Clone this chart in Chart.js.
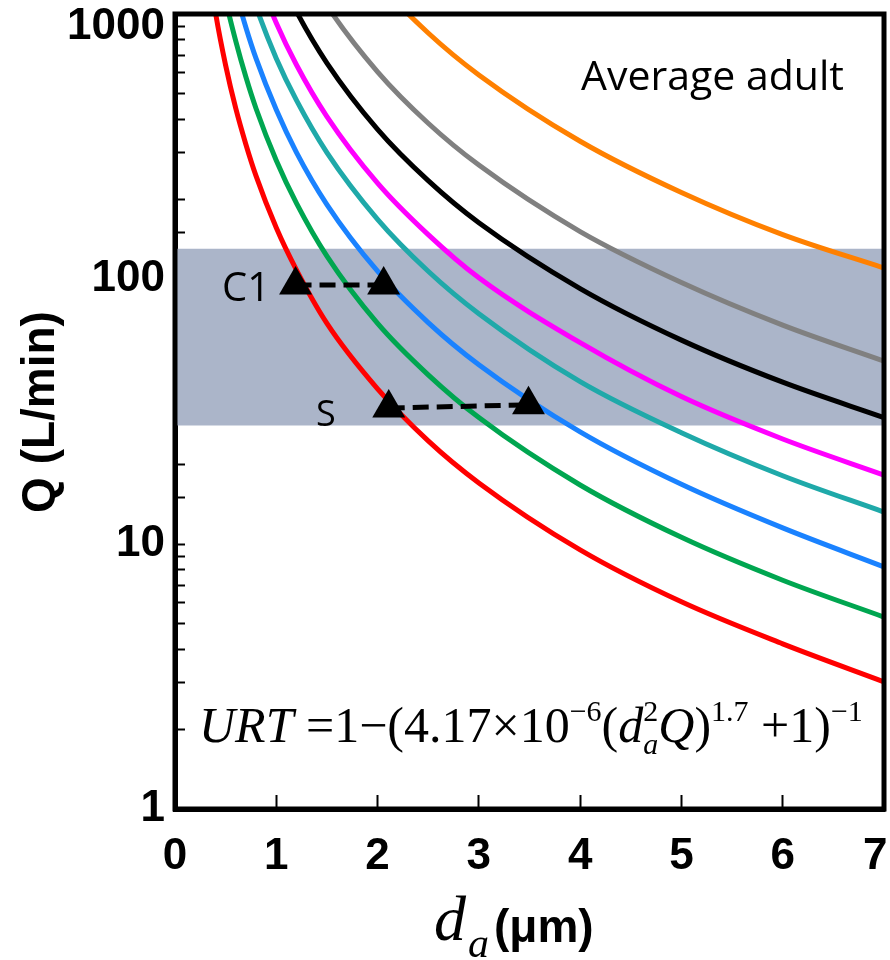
<!DOCTYPE html>
<html>
<head>
<meta charset="utf-8">
<script src="https://cdn.jsdelivr.net/npm/chart.js@4/dist/chart.umd.min.js"></script>
<style>
  html, body { margin: 0; padding: 0; background: #fff; overflow: hidden; }
  #wrap { width: 890px; height: 960px; position: relative; }
</style>
</head>
<body>
<div id="wrap"><canvas id="urt"></canvas></div>
<script>
'use strict';

// particle diameter d_a (um) where the curves were read
const dGrid = [0.3, 0.4, 0.5, 0.6, 0.7, 0.8, 1, 1.2, 1.5, 2, 2.5, 3, 4, 5, 6, 7];

// Q (L/min) (null = above the 1000 line)
const qRed     = [1800, 1010, 640, 440, 322, 245, 156, 108, 68, 38.5, 24.5, 17, 9.5, 6.05, 4.2, 3.02];
const qGreen   = [3100, 1770, 1130, 790, 578, 440, 280, 193, 122, 68, 43.5, 30, 16.7, 10.6, 7.3, 5.3];
const qBlue    = [null, 2730, 1750, 1210, 890, 680, 435, 300, 191, 107, 68.5, 47.5, 26.5, 16.8, 11.5, 8.2];
const qCyan    = [null, null, 2730, 1900, 1395, 1065, 680, 472, 300, 168, 107, 74, 41, 26.3, 18.1, 13.2];
const qMagenta = [null, null, null, 2570, 1890, 1445, 925, 642, 410, 230, 147, 101, 57.5, 36, 24.9, 18.2];
const qBlack   = [null, null, null, null, null, 2300, 1470, 1020, 653, 367, 235, 163, 92, 58.8, 40.8, 30];
const qGray    = [null, null, null, null, null, null, 2420, 1680, 1075, 605, 387, 269, 151, 97, 67, 49];
const qOrange  = [null, null, null, null, null, null, null, null, 2355, 1325, 848, 589, 331, 212, 147, 110];

// shaded breathing-rate band
const bandQ = [28, 130];

// triangle pairs
const c1D = [1.19, 2.06];
const c1Q = [95, 95];
const sD = [2.11, 3.49];
const sQ = [32.6, 33.5];

const yLabels = [1, 10, 100, 1000];

function pts(xs, ys) {
  const out = [];
  xs.forEach((x, i) => {
    if (ys[i] != null) out.push({x: x, y: ys[i]});
  });
  return out;
}

function curve(q, color) {
  return {
    data: pts(dGrid, q),
    borderColor: color,
    borderWidth: 5,
    pointRadius: 0,
    cubicInterpolationMode: 'monotone',
    fill: false,
    order: 2
  };
}

function marks(xs, ys) {
  return {
    data: pts(xs, ys),
    borderColor: '#000',
    borderWidth: 5,
    borderDash: [16, 8],
    pointStyle: 'triangle',
    pointRadius: 19,
    pointBackgroundColor: '#000',
    pointBorderWidth: 0,
    fill: false,
    order: 0
  };
}

const notes = {
  id: 'notes',
  afterDraw(chart) {
    const ctx = chart.ctx;
    const a = chart.chartArea;
    ctx.save();

    ctx.strokeStyle = '#000';
    ctx.lineWidth = 5;
    ctx.strokeRect(a.left, a.top, a.right - a.left, a.bottom - a.top);

    ctx.fillStyle = '#000';
    ctx.textBaseline = 'alphabetic';
    ctx.textAlign = 'left';
    ctx.font = '41px "Open Sans"';
    ctx.fillText('Average adult', 581, 90);
    ctx.font = '40px "Open Sans"';
    ctx.fillText('C1', 222, 301);
    ctx.font = '36px "Open Sans"';
    ctx.fillText('S', 316, 426);

    // formula
    const serif = '"Liberation Serif"';
    const big = 50, small = 30;
    const runs = [
      {t: 'URT', f: 'italic ' + big + 'px ' + serif},
      {t: ' =1\u2212(4.17\u00d710', f: big + 'px ' + serif},
      {t: '\u22126', f: small + 'px ' + serif, dy: -21},
      {t: '(', f: big + 'px ' + serif},
      {t: 'd', f: 'italic ' + big + 'px ' + serif},
      {t: '2', f: small + 'px ' + serif, dy: -21, stack: true},
      {t: 'a', f: 'italic ' + small + 'px ' + serif, dy: 12},
      {t: 'Q', f: 'italic ' + big + 'px ' + serif},
      {t: ')', f: big + 'px ' + serif},
      {t: '1.7', f: small + 'px ' + serif, dy: -21},
      {t: ' +1)', f: big + 'px ' + serif},
      {t: '\u22121', f: small + 'px ' + serif, dy: -21}
    ];
    let fx = 199;
    const fy = 742;
    runs.forEach(r => {
      ctx.font = r.f;
      ctx.fillText(r.t, fx, fy + (r.dy || 0));
      if (!r.stack) fx += ctx.measureText(r.t).width;
    });

    // x title
    ctx.font = 'italic 64px ' + serif;
    ctx.fillText('d', 434, 940);
    ctx.font = 'italic 42px ' + serif;
    ctx.fillText('a', 468, 957);
    ctx.font = 'bold 46px "Liberation Sans"';
    ctx.fillText('(\u03bcm)', 494, 942);

    // y title
    ctx.translate(41, 412);
    ctx.rotate(-Math.PI / 2);
    ctx.textAlign = 'center';
    ctx.textBaseline = 'middle';
    ctx.fillText('Q (L/min)', 0, 0);

    ctx.restore();
  }
};

new Chart(document.getElementById('urt'), {
  type: 'line',
  data: {
    datasets: [
      marks(c1D, c1Q),
      marks(sD, sQ),
      curve(qRed, '#ff0000'),
      curve(qGreen, '#00a650'),
      curve(qBlue, '#1a82ff'),
      curve(qCyan, '#1fa9a9'),
      curve(qMagenta, '#ff00ff'),
      curve(qBlack, '#000000'),
      curve(qGray, '#808080'),
      curve(qOrange, '#ff8000'),
      {
        data: [{x: 0, y: bandQ[1]}, {x: 7, y: bandQ[1]}],
        borderWidth: 0,
        pointRadius: 0,
        backgroundColor: 'rgb(171,181,201)',
        fill: {value: bandQ[0]},
        order: 10
      }
    ]
  },
  options: {
    responsive: true,
    maintainAspectRatio: false,
    animation: false,
    layout: {autoPadding: false, padding: {top: 14, right: 6, left: 0, bottom: 0}},
    plugins: {
      legend: {display: false},
      tooltip: {enabled: false}
    },
    scales: {
      x: {
        type: 'linear',
        min: 0,
        max: 7,
        border: {display: true, color: '#000', width: 5},
        grid: {drawOnChartArea: false, tickLength: -14, tickColor: '#000', tickWidth: 2},
        ticks: {
          stepSize: 1,
          padding: 35,
          color: '#000',
          font: {family: 'Liberation Sans', weight: 'bold', size: 44},
          // last label sits a little left of its tick so it stays on the page
          callback: v => v === 7 ? '7\u2009\u2009' : String(v)
        },
        afterFit: s => { s.height = 151; s.paddingLeft = 0; s.paddingRight = 0; }
      },
      y: {
        type: 'logarithmic',
        min: 1,
        max: 1000,
        border: {display: true, color: '#000', width: 5},
        grid: {drawOnChartArea: false, tickLength: -10, tickColor: '#000', tickWidth: 2},
        ticks: {
          autoSkip: false,
          padding: 20,
          color: '#000',
          font: {family: 'Liberation Sans', weight: 'bold', size: 44, lineHeight: 0.6},
          callback: v => {
            if (v === 1000) return ['', '1000'];
            return yLabels.includes(v) ? String(v) : '';
          }
        },
        afterFit: s => { s.width = 175; s.paddingTop = 0; s.paddingBottom = 0; }
      }
    }
  },
  plugins: [notes]
});
</script>
</body>
</html>
